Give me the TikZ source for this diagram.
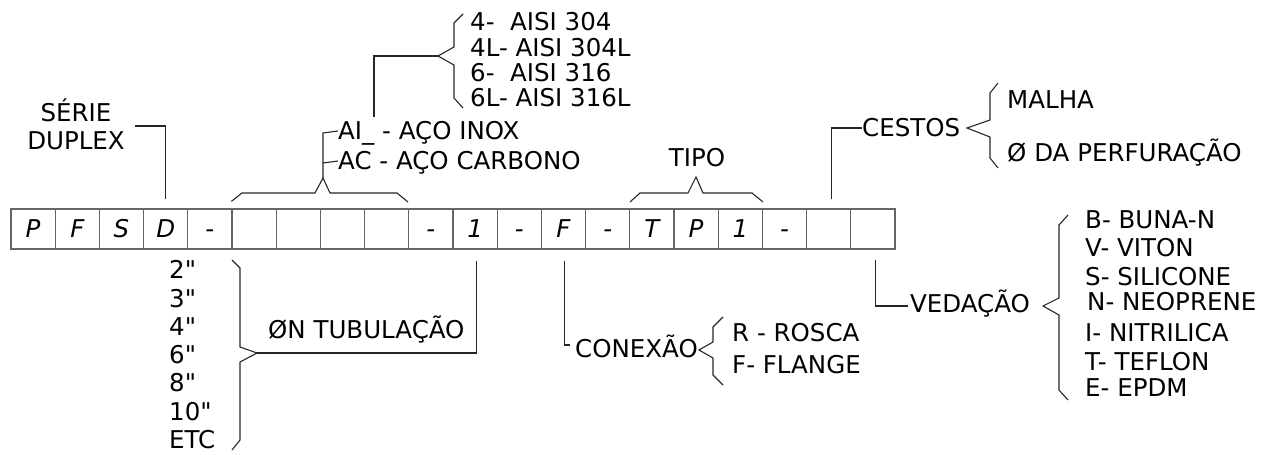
\documentclass[tikz,border=0pt]{standalone}
\usepackage{fontspec}
\setmainfont{DejaVu Sans}[Ligatures=TeXOff]
\usepackage{tikz}
\usetikzlibrary{positioning,calc}

\begin{document}
\begin{tikzpicture}[x=1pt, y=-1pt,
  font=\fontsize{24.5}{29}\selectfont,
  cell/.style={draw=black!60, line width=1.2pt, minimum width=44.2pt, minimum height=40pt, inner sep=0pt, text height=17.9pt, text depth=0pt, font=\fontsize{24.5}{29}\selectfont\itshape},
  lbl/.style={inner sep=0pt, text height=17.9pt, text depth=0pt},
  conn/.style={draw=black!85, line width=1.1pt}]
  \useasboundingbox (0,0) rectangle (1270,455);

  % Code boxes
  \foreach \c [count=\i from 0] in {P,F,S,D,-,{},{},{},{},-,1,-,F,-,T,P,1,-,{},{}}
    \node[cell] (b\i) at ({11+44.2*(\i+0.5)},229) {\c};

  % Serie
  \node[lbl] (serie) at (76,113) {SÉRIE};
  \node[lbl] (duplex) at (76,141) {DUPLEX};
  \draw[conn] (b3.north) ++(0,-9) |- (135,126);

  % Material
  \node[lbl, anchor=west] (inox) at (338,131) {AI\_ - AÇO INOX};
  \node[lbl, anchor=west] (carbono) at (338,161) {AC - AÇO CARBONO};
  \coordinate (matpeak) at (323,178);
  \draw[conn] (b5.north west) ++(0,-7) -- (242,193) -- (315,193) -- (matpeak) -- (330,193) -- (397,193) -- (408,202);
  \draw[conn] (matpeak) -- (323,133) -- (inox.west);
  \draw[conn] (323,163) -- (carbono.west);

  % Aco inox options
  \node[lbl, anchor=west] (a304) at (470,22) {4-~ AISI 304};
  \node[lbl, anchor=west] (a304l) at (470,48) {4L- AISI 304L};
  \node[lbl, anchor=west] (a316) at (470,73) {6-~ AISI 316};
  \node[lbl, anchor=west] (a316l) at (470,98) {6L- AISI 316L};
  \draw[conn] (374,117) -- (374,56) -- (438,56);
  \draw[conn] (463,14) -- (454,23) -- (454,47) -- (438,56) -- (454,65) -- (454,98) -- (463,108);

  % Tipo
  \node[lbl] (tipo) at (697,158) {TIPO};
  \draw[conn] (630,202) -- (640,193) -- (688,193) -- (696,177) -- (703,193) -- (752,193) -- (763,202);

  % Cestos
  \node[lbl, anchor=west] (cestos) at (862,128) {CESTOS};
  \node[lbl, anchor=west] (malha) at (1007,100) {MALHA};
  \node[lbl, anchor=west] (perf) at (1007,153) {Ø DA PERFURAÇÃO};
  \draw[conn] (b18.north) ++(3,-9) |- (cestos.west);
  \draw[conn] (998,83) -- (990,93) -- (990,120) -- (967,128) -- (990,137) -- (990,158) -- (998,168);

  % Tubulacao
  \node[lbl, anchor=west] (tubo) at (268,330) {ØN TUBULAÇÃO};
  \foreach \t/\y [count=\k] in {2"/270,3"/299,4"/327,6"/355,8"/383,10"/412,ETC/440}
    \node[lbl, anchor=west] (pol\k) at (169,\y) {\t};
  \coordinate (tubtip) at (257,353);
  \draw[conn] (232,260) -- (240,268) -- (240,347) -- (tubtip) -- (240,362) -- (240,440) -- (232,450);
  \draw[conn] (tubtip) -| ($(b10.south)+(1,11)$);

  % Conexao
  \node[lbl, anchor=west] (conexao) at (575,349) {CONEXÃO};
  \node[lbl, anchor=west] (rosca) at (732,333) {R - ROSCA};
  \node[lbl, anchor=west] (flange) at (732,365) {F- FLANGE};
  \draw[conn] ($(b12.south)+(1,11)$) |- (570,345);
  \draw[conn] (723,317) -- (713,327) -- (713,342) -- (699,350) -- (713,358) -- (713,375) -- (723,385);

  % Vedacao
  \node[lbl, anchor=west] (vedacao) at (910,304) {VEDAÇÃO};
  \draw[conn] ($(b19.south)+(3,10)$) |- (908,306);
  \draw[conn] (1068,215) -- (1059,225) -- (1059,298) -- (1043,306) -- (1059,315) -- (1059,390) -- (1068,400);
  \foreach \t/\x/\y [count=\k] in {B- BUNA-N/1085/220,V- VITON/1085/248,S- SILICONE/1085/277,N- NEOPRENE/1087/302,I- NITRILICA/1085/333,T- TEFLON/1085/362,E- EPDM/1085/388}
    \node[lbl, anchor=west] (ved\k) at (\x,\y) {\t};
\end{tikzpicture}
\end{document}
